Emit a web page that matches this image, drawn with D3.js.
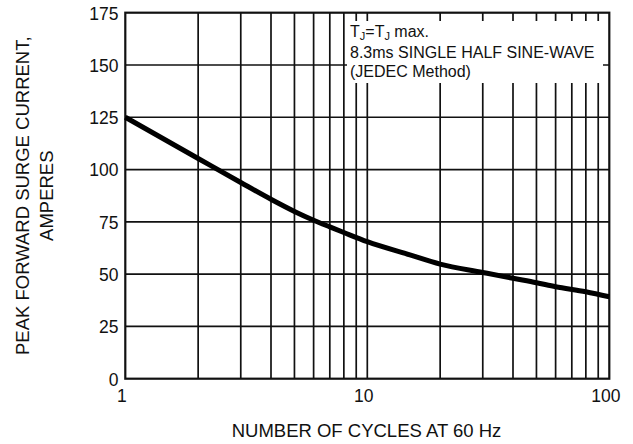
<!DOCTYPE html>
<html>
<head>
<meta charset="utf-8">
<script src="https://cdn.jsdelivr.net/npm/d3@7"></script>
<style>
  body { margin: 0; background: #fff; }
  svg { display: block; font-family: "Liberation Sans", Arial, sans-serif; }
</style>
</head>
<body>
<svg id="chart" width="633" height="444"></svg>
<script>
// Data
const cycles = [1, 2, 3, 4, 5, 6, 7, 8, 10, 15, 20, 30, 40, 50, 60, 80, 100];
const surgeCurrent = [125, 105.3, 93.8, 85.8, 80, 75.8, 72.6, 69.9, 65.5, 59.2, 54.8, 50.8, 48, 45.9, 44, 41.6, 39.2];
const yTicks = [0, 25, 50, 75, 100, 125, 150, 175];
const xTickLabels = [1, 10, 100];
const xGrid = [2, 3, 4, 5, 6, 7, 8, 9, 10, 20, 30, 40, 50, 60, 70, 80, 90];
const legendLines = ["8.3ms SINGLE HALF SINE-WAVE", "(JEDEC Method)"];

const svg = d3.select("#chart");
const m = { left: 125.3, right: 609.3, top: 12.7, bottom: 378.7 };

const x = d3.scaleLog().domain([1, 100]).range([m.left, m.right]);
const y = d3.scaleLinear().domain([0, 175]).range([m.bottom, m.top]);

// grid
const g = svg.append("g");
g.selectAll("line.v").data(xGrid).enter().append("line")
  .attr("x1", d => x(d)).attr("x2", d => x(d))
  .attr("y1", m.top).attr("y2", m.bottom)
  .attr("stroke", "#111").attr("stroke-width", 1.7);
g.selectAll("line.h").data(yTicks.slice(1, -1)).enter().append("line")
  .attr("x1", m.left).attr("x2", m.right)
  .attr("y1", d => y(d)).attr("y2", d => y(d))
  .attr("stroke", "#111").attr("stroke-width", 1.7);

// legend box (white, covers grid)
svg.append("rect").attr("x", 347).attr("y", 21).attr("width", 603 - 347).attr("height", 62)
  .attr("fill", "#fff");
const lt = svg.append("text").attr("x", 350).attr("y", 37).attr("font-size", 16).attr("fill", "#111");
lt.append("tspan").text("T");
lt.append("tspan").attr("font-size", 11).attr("dy", 3).text("J");
lt.append("tspan").attr("dy", -3).text("=T");
lt.append("tspan").attr("font-size", 11).attr("dy", 3).text("J");
lt.append("tspan").attr("dy", -3).text(" max.");
svg.selectAll("text.leg").data(legendLines).enter().append("text")
  .attr("x", 350).attr("y", (d, i) => 58 + i * 19)
  .attr("font-size", 16).attr("fill", "#111").text(d => d);

// border
svg.append("rect").attr("x", m.left).attr("y", m.top)
  .attr("width", m.right - m.left).attr("height", m.bottom - m.top)
  .attr("fill", "none").attr("stroke", "#111").attr("stroke-width", 2.2);

// curve
const line = d3.line().x((d, i) => x(cycles[i])).y(d => y(d)).curve(d3.curveMonotoneX);
svg.append("path").datum(surgeCurrent).attr("d", line)
  .attr("fill", "none").attr("stroke", "#000").attr("stroke-width", 5);

// axes labels
svg.selectAll("text.yt").data(yTicks).enter().append("text")
  .attr("x", 118.5).attr("y", d => y(d) + 0.5).attr("dy", "0.36em")
  .attr("text-anchor", "end").attr("font-size", 17.5).attr("fill", "#111").text(d => d);
svg.selectAll("text.xt").data(xTickLabels).enter().append("text")
  .attr("x", d => x(d) - 3.5).attr("y", 402)
  .attr("text-anchor", "middle").attr("font-size", 17.5).attr("fill", "#111").text(d => d);

svg.append("text").attr("x", 366.5).attr("y", 437)
  .attr("text-anchor", "middle").attr("font-size", 18.5).attr("fill", "#111")
  .text("NUMBER OF CYCLES AT 60 Hz");

const yl = svg.append("text").attr("transform", `translate(29, ${(m.top + m.bottom) / 2}) rotate(-90)`)
  .attr("text-anchor", "middle").attr("font-size", 18.5).attr("fill", "#111");
yl.append("tspan").attr("x", 0).attr("y", 0).text("PEAK FORWARD SURGE CURRENT,");
yl.append("tspan").attr("x", 0).attr("y", 24).text("AMPERES");
</script>
</body>
</html>
